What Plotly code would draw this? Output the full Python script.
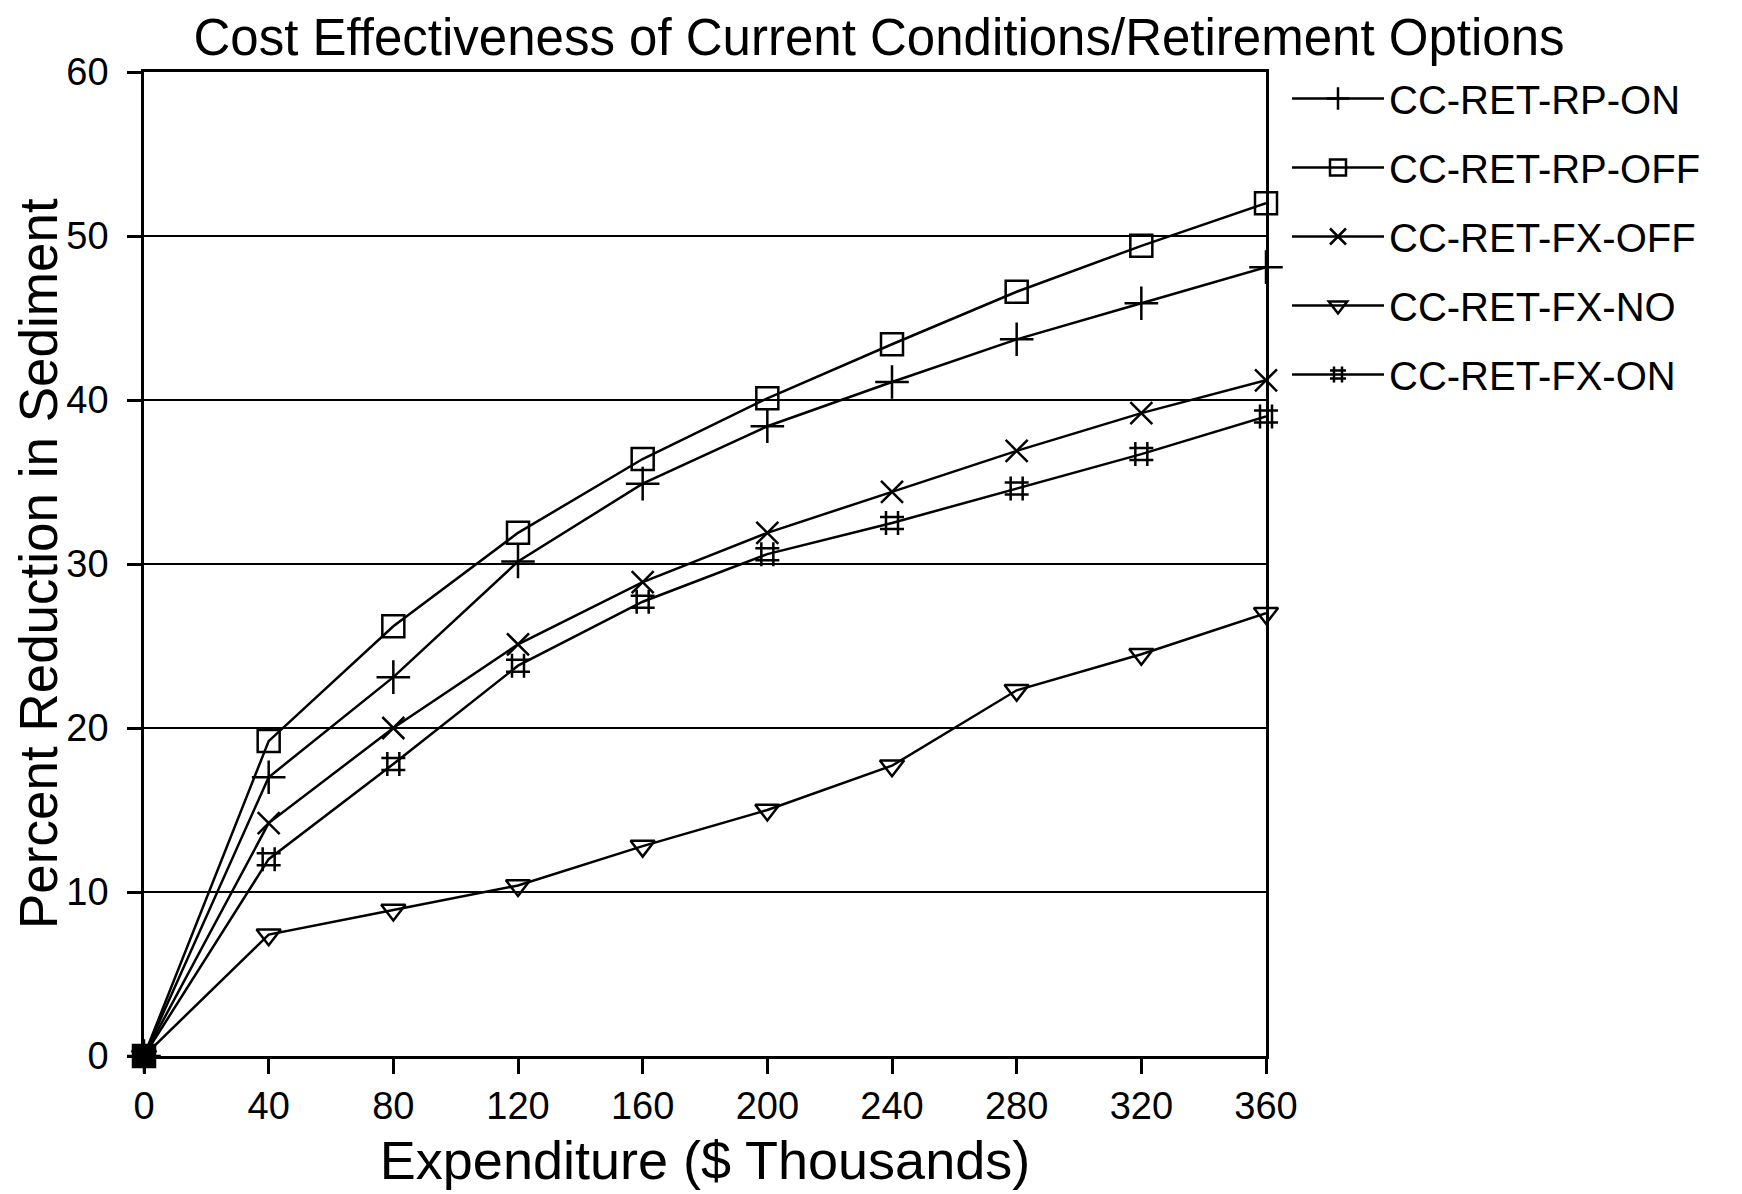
import plotly.graph_objects as go

expenditure = [0, 40, 80, 120, 160, 200, 240, 280, 320, 360]
rp_on = [0, 17.0, 23.1, 30.15, 34.9, 38.4, 41.1, 43.7, 45.9, 48.1]
rp_off = [0, 19.2, 26.2, 31.9, 36.4, 40.1, 43.4, 46.6, 49.4, 52.0]
fx_off = [0, 14.2, 20.0, 25.1, 28.9, 31.9, 34.4, 36.9, 39.2, 41.2]
fx_no = [0, 7.4, 8.9, 10.4, 12.8, 15.0, 17.7, 22.3, 24.5, 27.0]
fx_on = [0, 12.0, 17.8, 23.8, 27.7, 30.6, 32.5, 34.6, 36.7, 39.0]

series_names = ["CC-RET-RP-ON", "CC-RET-RP-OFF", "CC-RET-FX-OFF", "CC-RET-FX-NO", "CC-RET-FX-ON"]
series_values = [rp_on, rp_off, fx_off, fx_no, fx_on]
symbols = ["cross-thin-open", "square-open", "x-thin-open", "triangle-down-open", "hash-open"]
sizes = [24, 22, 22, 21, 24]

x_ticks = [0, 40, 80, 120, 160, 200, 240, 280, 320, 360]
y_ticks = [0, 10, 20, 30, 40, 50, 60]

FONT = "Liberation Sans, Arial, sans-serif"

fig = go.Figure()
for name, vals, sym, sz in zip(series_names, series_values, symbols, sizes):
    fig.add_trace(go.Scatter(
        x=expenditure, y=vals, name=name, mode="lines+markers",
        line=dict(color="black", width=2.5),
        marker=dict(symbol=sym, size=sz, color="black",
                    line=dict(color="black", width=2.5)),
        legendgroup=name, cliponaxis=False,
    ))

# overlapping markers at the origin print as a solid block in the reference
fig.add_trace(go.Scatter(
    x=[expenditure[0]], y=[rp_off[0]], mode="markers", showlegend=False,
    marker=dict(symbol="square", size=20, color="black"), cliponaxis=False, hoverinfo="skip",
))

fig.update_layout(
    width=1742, height=1194,
    margin=dict(l=136, r=484, t=64, b=146),
    paper_bgcolor="white", plot_bgcolor="white",
    font=dict(family=FONT, color="black"),
    title=dict(text="Cost Effectiveness of Current Conditions/Retirement Options",
               x=0.5, xanchor="center", y=1 - 29 / 1194, yanchor="middle",
               font=dict(size=51, family=FONT, color="black")),
    showlegend=True,
    legend=dict(x=(1279 - 136) / 1122, xanchor="left", y=1 + (64 - 58) / 984, yanchor="top",
                font=dict(size=40, family=FONT, color="black"),
                itemwidth=92, tracegroupgap=14, traceorder="grouped",
                bgcolor="rgba(0,0,0,0)", borderwidth=0),
    annotations=[dict(
        text="Percent Reduction in Sediment", textangle=-90,
        xref="paper", yref="paper", x=(30 - 136) / 1122, y=0.5,
        xanchor="center", yanchor="middle", showarrow=False,
        font=dict(size=53, family=FONT, color="black"),
    )],
)
fig.update_xaxes(
    range=[0, 360], tickmode="array", tickvals=x_ticks, ticktext=[str(v) for v in x_ticks],
    ticks="outside", ticklen=15, tickwidth=2.5, tickcolor="black",
    showline=True, linecolor="black", linewidth=2.5, mirror=True,
    showgrid=False, zeroline=False,
    tickfont=dict(size=38, family=FONT, color="black"),
    title=dict(text="Expenditure ($ Thousands)", font=dict(size=54, family=FONT, color="black"), standoff=15),
)
fig.update_yaxes(
    range=[0, 60], tickmode="array", tickvals=y_ticks, ticktext=[str(v) for v in y_ticks],
    ticks="outside", ticklen=14, tickwidth=2.5, tickcolor="black",
    showline=True, linecolor="black", linewidth=2.5, mirror=True,
    showgrid=True, gridcolor="black", gridwidth=2,
    zeroline=False, ticklabelstandoff=11,
    tickfont=dict(size=38, family=FONT, color="black"),
)

fig.write_html("out.html")
